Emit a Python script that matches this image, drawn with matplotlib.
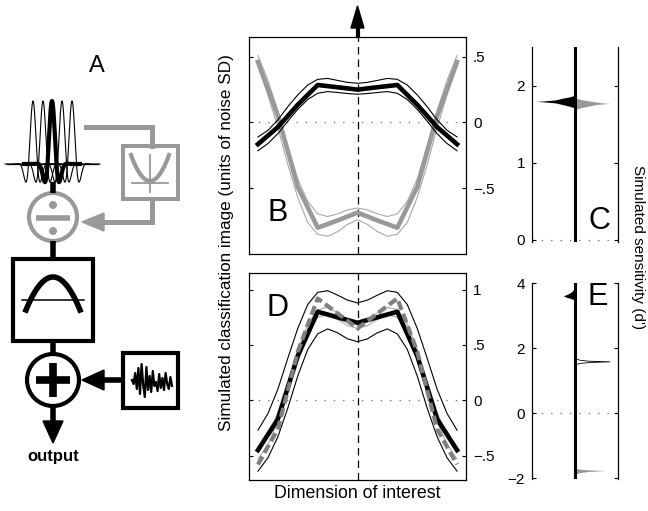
import numpy as np
import matplotlib.pyplot as plt
from matplotlib.patches import Rectangle, Circle, Polygon

plt.rcParams['font.family'] = ['Liberation Sans', 'DejaVu Sans']

# --- data ---
x_coarse = np.linspace(-1, 1, 11)
x_fine = np.linspace(-1, 1, 21)

# panel B
b_black = [-0.165, -0.035, 0.135, 0.285, 0.268, 0.25, 0.268, 0.285, 0.135, -0.035, -0.165]
b_gray = [0.46, 0.05, -0.49, -0.80, -0.745, -0.685, -0.745, -0.80, -0.49, 0.05, 0.46]
b_black_hi = [-0.11, -0.06, 0.02, 0.12, 0.21, 0.285, 0.328, 0.335, 0.32, 0.305, 0.298,
              0.305, 0.32, 0.335, 0.328, 0.285, 0.21, 0.12, 0.02, -0.06, -0.11]
b_black_lo = [-0.215, -0.16, -0.085, 0.01, 0.10, 0.175, 0.222, 0.235, 0.228, 0.22, 0.215,
              0.22, 0.228, 0.235, 0.222, 0.175, 0.10, 0.01, -0.085, -0.16, -0.215]
b_gray_hi = [0.51, 0.32, 0.09, -0.18, -0.43, -0.60, -0.695, -0.715, -0.695, -0.665, -0.65,
             -0.665, -0.695, -0.715, -0.695, -0.60, -0.43, -0.18, 0.09, 0.32, 0.51]
b_gray_lo = [0.43, 0.21, -0.04, -0.32, -0.57, -0.76, -0.85, -0.865, -0.83, -0.775, -0.74,
             -0.775, -0.83, -0.865, -0.85, -0.76, -0.57, -0.32, -0.04, 0.21, 0.43]

# panel D
d_black = [-0.45, -0.17, 0.40, 0.80, 0.75, 0.70, 0.75, 0.80, 0.40, -0.17, -0.45]
d_dash = [-0.58, -0.26, 0.44, 0.92, 0.785, 0.65, 0.785, 0.92, 0.44, -0.26, -0.58]
d_black_hi = [-0.27, -0.12, 0.10, 0.38, 0.65, 0.865, 0.975, 0.99, 0.95, 0.905, 0.88,
              0.905, 0.95, 0.99, 0.975, 0.865, 0.65, 0.38, 0.10, -0.12, -0.27]
d_black_lo = [-0.64, -0.52, -0.33, -0.07, 0.22, 0.46, 0.60, 0.645, 0.61, 0.555, 0.53,
              0.555, 0.61, 0.645, 0.60, 0.46, 0.22, -0.07, -0.33, -0.52, -0.64]
d_gray_hi = [-0.47, -0.33, -0.11, 0.17, 0.46, 0.69, 0.82, 0.84, 0.79, 0.73, 0.70,
             0.73, 0.79, 0.84, 0.82, 0.69, 0.46, 0.17, -0.11, -0.33, -0.47]
d_gray_lo = [-0.53, -0.40, -0.19, 0.08, 0.37, 0.61, 0.75, 0.775, 0.73, 0.675, 0.65,
             0.675, 0.73, 0.775, 0.75, 0.61, 0.37, 0.08, -0.19, -0.40, -0.53]

# panel C histograms (d' value, relative count)
c_black_y = [1.72, 1.74, 1.76, 1.78, 1.795, 1.80, 1.805, 1.82, 1.84, 1.86, 1.875]
c_black_w = [0.03, 0.15, 0.30, 0.45, 0.75, 0.91, 0.75, 0.45, 0.30, 0.12, 0.03]
c_gray_y = [1.70, 1.72, 1.74, 1.76, 1.77, 1.775, 1.78, 1.80, 1.82, 1.84]
c_gray_w = [0.03, 0.15, 0.32, 0.50, 0.72, 0.81, 0.65, 0.40, 0.18, 0.03]

# panel E histograms
e_black_y = [3.50, 3.54, 3.58, 3.62, 3.66, 3.72, 3.78, 3.84]
e_black_w = [0.03, 0.12, 0.22, 0.27, 0.18, 0.10, 0.05, 0.02]
e_white_y = [1.52, 1.55, 1.58, 1.60, 1.62, 1.65, 1.68]
e_white_w = [0.03, 0.10, 0.35, 0.80, 0.30, 0.10, 0.03]
e_gray_y = [-1.86, -1.82, -1.79, -1.76, -1.74, -1.72, -1.69]
e_gray_w = [0.03, 0.12, 0.30, 0.70, 0.35, 0.12, 0.03]

# diagram bits
gabor_centers = [33, 43, 52, 62, 72]
noise_vals = [0, 4, -7, 9, -12, 14, -16, 5, 17, -13, 10, -4, 12, -9, 6, 2, 11, -6, 8, -2, 10, -7, 4, 9, -3, 6]

GRAY = '#999999'
TGRAY = '#a8a8a8'
LGRAY = '#b3b3b3'
DGRAY = '#7f7f7f'
DOT = '#666666'

fig = plt.figure(figsize=(6.48, 5.11), dpi=100)


def curve_axes(rect, ylim, ticks, labels, letter, letter_pos):
    ax = fig.add_axes(rect)
    ax.set_xlim(-1.09, 1.09)
    ax.set_ylim(*ylim)
    ax.set_xticks([])
    ax.set_yticks(ticks)
    ax.set_yticklabels(labels)
    ax.tick_params(axis='y', left=True, right=True, labelleft=False, labelright=True,
                   direction='in', length=3, width=0.8, labelsize=11, pad=5)
    for s in ax.spines.values():
        s.set_linewidth(0.9)
    ax.axvline(0, color='k', lw=0.9, linestyle=(0, (6, 4)), zorder=1)
    ax.axhline(0, color=DOT, lw=0.9, linestyle=(0, (1, 6.5)), zorder=1)
    ax.text(letter_pos[0], letter_pos[1], letter, transform=ax.transAxes,
            fontsize=22, ha='center', va='center')
    return ax


ax_b = curve_axes([249/648, 1-254/511, 217/648, 217/511], (-1.0, 0.65),
                  [-0.5, 0, 0.5], ['\u2212.5', '0', '.5'], 'B', (0.13, 0.19))
ax_b.plot(x_fine, b_gray_hi, color=TGRAY, lw=0.8)
ax_b.plot(x_fine, b_gray_lo, color=TGRAY, lw=0.8)
ax_b.plot(x_coarse, b_gray, color=GRAY, lw=3.3)
ax_b.plot(x_fine, b_black_hi, color='k', lw=0.8)
ax_b.plot(x_fine, b_black_lo, color='k', lw=0.8)
ax_b.plot(x_coarse, b_black, color='k', lw=3.3)

ax_d = curve_axes([249/648, 1-480/511, 217/648, 207/511], (-0.72, 1.15),
                  [-0.5, 0, 0.5, 1], ['\u2212.5', '0', '.5', '1'], 'D', (0.13, 0.83))
ax_d.plot(x_fine, d_black_hi, color='k', lw=0.8)
ax_d.plot(x_fine, d_black_lo, color='k', lw=0.8)
ax_d.plot(x_fine, d_gray_hi, color=LGRAY, lw=0.9)
ax_d.plot(x_fine, d_gray_lo, color=LGRAY, lw=0.9)
ax_d.plot(x_coarse, d_black, color='k', lw=3.3)
ax_d.plot(x_coarse, d_dash, color=DGRAY, lw=3.0, linestyle=(0, (2.2, 1.0)))


def dprime_axes(rect, ylim, ticks, letter, letter_pos):
    ax = fig.add_axes(rect)
    ax.set_xlim(-1, 1)
    ax.set_ylim(*ylim)
    ax.set_xticks([])
    ax.set_yticks(ticks)
    ax.set_yticklabels([str(t).replace('-', '\u2212') for t in ticks])
    ax.tick_params(axis='y', left=True, right=True, direction='in', length=3,
                   width=0.8, labelsize=11, pad=5)
    ax.spines['top'].set_visible(False)
    ax.spines['bottom'].set_visible(False)
    ax.spines['left'].set_linewidth(0.9)
    ax.spines['right'].set_linewidth(0.9)
    ax.axhline(0, color=DOT, lw=0.9, linestyle=(0, (1, 6.5)), zorder=1)
    ax.axvline(0, color='k', lw=2.2, zorder=3)
    ax.text(letter_pos[0], letter_pos[1], letter, transform=ax.transAxes,
            fontsize=22, ha='center', va='center')
    return ax


ax_c = dprime_axes([532/648, 1-242.3/511, 86/648, 194.8/511], (-0.03, 2.5),
                   [0, 1, 2], 'C', (0.78, 0.11))
ax_c.fill_betweenx(c_black_y, [-w for w in c_black_w], 0, color='k', lw=0)
ax_c.fill_betweenx(c_gray_y, 0, c_gray_w, color=GRAY, lw=0)

ax_e = dprime_axes([532/648, 1-479/511, 86/648, 195.7/511], (-2.02, 4.0),
                   [-2, 0, 2, 4], 'E', (0.76, 0.93))
ax_e.fill_betweenx(e_black_y, [-w for w in e_black_w], 0, color='k', lw=0)
ax_e.fill_betweenx(e_white_y, 0, e_white_w, facecolor='white', edgecolor='k', lw=0.6)
ax_e.fill_betweenx(e_gray_y, 0, e_gray_w, color=GRAY, lw=0)

fig.text(226/648, 1-243/511, 'Simulated classification image (units of noise SD)',
         rotation=90, ha='center', va='center', fontsize=12.3)
fig.text(638/648, 1-247/511, "Simulated sensitivity (d')",
         rotation=270, ha='center', va='center', fontsize=11)
fig.text(357/648, 1-493/511, 'Dimension of interest', ha='center', va='center', fontsize=12.8)

# --- overlay in pixel coordinates: panel A diagram and the arrow above B ---
ov = fig.add_axes([0, 0, 1, 1])
ov.set_xlim(0, 648)
ov.set_ylim(511, 0)
ov.axis('off')

# arrow above B
ov.plot([357.5, 357.5], [37, 26], color='k', lw=3, solid_capstyle='butt')
ov.add_patch(Polygon([[351, 28], [364, 28], [357.5, 6]], closed=True, color='k'))

ov.text(97, 66, 'A', fontsize=17, ha='center', va='center')

# gabor filters
ov.plot([7, 98], [164, 164], color='k', lw=0.9)
for i, c in enumerate(gabor_centers):
    gx = np.linspace(c - 28, c + 28, 300)
    gy = 164 - 63 * np.exp(-(gx - c) ** 2 / 50.0) * np.cos(2 * np.pi * (gx - c) / 18.0)
    ov.plot(gx, gy, color='k', lw=3.0 if i == 2 else 0.8)

# gray normalisation loop
ov.plot([86, 152, 152], [127, 127, 146], color=GRAY, lw=3.6, solid_joinstyle='miter')
ov.add_patch(Rectangle((123, 146), 55, 53, fill=False, edgecolor=GRAY, lw=2.9))
px = np.linspace(131, 169, 50)
ov.plot(px, 181 - 26 * ((px - 150) / 19.0) ** 2, color=GRAY, lw=3)
ov.plot([132, 168], [183, 183], color=GRAY, lw=1.3)
ov.plot([150, 150], [155, 192], color=GRAY, lw=1.3)
ov.plot([152, 152, 100], [199, 222, 222], color=GRAY, lw=3.6, solid_joinstyle='miter')
ov.add_patch(Polygon([[104, 213], [104, 231], [82, 222]], closed=True, color=GRAY))
ov.add_patch(Circle((53, 217), 24, fill=False, edgecolor=GRAY, lw=3))
ov.plot([36, 70], [218, 218], color=GRAY, lw=4, solid_capstyle='butt')
ov.add_patch(Circle((53, 205), 3.3, color=GRAY))
ov.add_patch(Circle((53, 231), 3.3, color=GRAY))

# black chain
ov.plot([53, 53], [182, 193], color='k', lw=4, solid_capstyle='butt')
ov.plot([53, 53], [241, 259], color='k', lw=4, solid_capstyle='butt')
ov.add_patch(Rectangle((13, 259), 80, 82, fill=False, edgecolor='k', lw=3))
bx = np.linspace(26, 80, 80)
ov.plot(bx, 277 + 33 * ((bx - 53) / 27.0) ** 2, color='k', lw=4)
ov.plot([22, 84], [300, 300], color='k', lw=1.1)
ov.plot([53, 53], [341, 354], color='k', lw=4, solid_capstyle='butt')
ov.add_patch(Circle((53, 380), 26, fill=False, edgecolor='k', lw=3))
ov.plot([36, 70], [380, 380], color='k', lw=5.5, solid_capstyle='butt')
ov.plot([53, 53], [363, 397], color='k', lw=5.5, solid_capstyle='butt')

# noise box
ov.add_patch(Rectangle((123, 353), 55, 55, fill=False, edgecolor='k', lw=3))
nx = np.linspace(132, 172, len(noise_vals))
ov.plot(nx, [380 + v for v in noise_vals], color='k', lw=1.6)
ov.plot([123, 101], [380, 380], color='k', lw=4, solid_capstyle='butt')
ov.add_patch(Polygon([[104, 370], [104, 390], [82, 380]], closed=True, color='k'))

# output arrow
ov.plot([53, 53], [406, 424], color='k', lw=4, solid_capstyle='butt')
ov.add_patch(Polygon([[43, 421], [63, 421], [53, 443]], closed=True, color='k'))
ov.text(53, 456, 'output', fontsize=12, fontweight='bold', ha='center', va='center')

fig.savefig('out.png', dpi=100)
